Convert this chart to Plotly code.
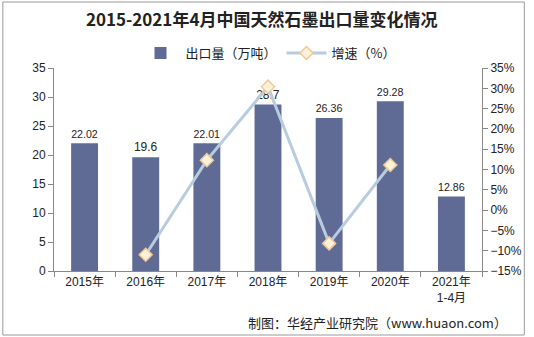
import plotly.graph_objects as go

categories = ["2015年", "2016年", "2017年", "2018年", "2019年", "2020年", "2021年<br>1-4月"]
export_volume = [22.02, 19.6, 22.01, 28.7, 26.36, 29.28, 12.86]
growth_rate = [None, -11.0, 12.3, 30.4, -8.2, 11.1, None]
bar_labels = ["22.02", "19.6", "22.01", "28.7", "26.36", "29.28", "12.86"]

W, H = 534, 337
L, R, T, B = 54, 45, 68, 66
pw, ph = W - L - R, H - T - B

def px_x(p):
    return (p - L) / pw

def px_y(p):
    return (H - B - p) / ph

font_main = "Arial, Liberation Sans, Noto Sans CJK SC"

fig = go.Figure()
fig.add_trace(go.Bar(
    x=categories, y=export_volume, name="出口量（万吨）",
    marker=dict(color="#5F6B94", line=dict(width=0)),
    width=0.44,
    text=bar_labels, textposition="outside",
    textfont=dict(size=12, color="#222", family=font_main),
    cliponaxis=False,
))
fig.add_trace(go.Scatter(
    x=categories, y=growth_rate, name="增速（%）", yaxis="y2",
    mode="lines+markers", connectgaps=False,
    line=dict(color="#B7CCDF", width=3),
    marker=dict(symbol="diamond", size=10, color="#FFF2D6",
                line=dict(color="#F0C89C", width=1.5)),
    cliponaxis=False,
))

fig.update_layout(
    width=W, height=H,
    margin=dict(l=L, r=R, t=T, b=B),
    paper_bgcolor="white", plot_bgcolor="white",
    font=dict(family=font_main, size=12, color="#222"),
    title=dict(text="<b>2015-2021年4月中国天然石墨出口量变化情况</b>",
               x=0.49, xanchor="center", y=1 - 20 / H, yanchor="middle",
               font=dict(size=17, color="#222", family="Noto Sans CJK SC")),
    legend=dict(orientation="h", x=0.5, xanchor="center", y=px_y(53), yanchor="middle",
                font=dict(size=13, color="#222", family="Noto Sans CJK SC"),
                bgcolor="rgba(0,0,0,0)", itemwidth=40, traceorder="normal"),
    bargap=0.56,
    xaxis=dict(type="category", showgrid=False, showline=True, linecolor="#888",
               linewidth=1, ticks="outside", ticklen=5, tickcolor="#888",
               tickson="boundaries", tickfont=dict(size=12, color="#222")),
    yaxis=dict(range=[0, 35], dtick=5, showgrid=False, showline=True, linecolor="#888",
               ticks="outside", ticklen=5, tickcolor="#888", zeroline=False,
               tickfont=dict(size=12, color="#222")),
    yaxis2=dict(range=[-15, 35], dtick=5, overlaying="y", side="right", showgrid=False,
                showline=True, linecolor="#888", ticks="outside", ticklen=5, tickcolor="#888",
                ticksuffix="%", zeroline=False, tickfont=dict(size=12, color="#222")),
    showlegend=True,
)

fig.add_shape(type="rect", xref="paper", yref="paper",
              x0=px_x(2), x1=px_x(532), y0=px_y(335), y1=px_y(2),
              line=dict(color="#999", width=1), fillcolor="rgba(0,0,0,0)", layer="below")

fig.add_annotation(text="制图：华经产业研究院（www.huaon.com）", xref="paper", yref="paper",
                   x=px_x(516), xanchor="right", y=px_y(322), yanchor="middle",
                   showarrow=False, font=dict(size=13, color="#222", family="Noto Sans CJK SC"))

fig.write_html("out.html")
